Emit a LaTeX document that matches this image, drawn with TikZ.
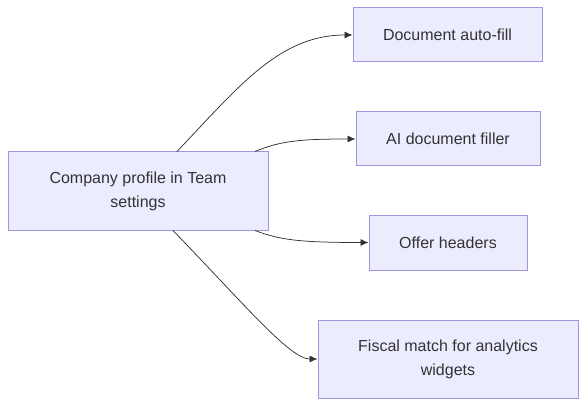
\documentclass[tikz,border=0pt]{standalone}
\usepackage{fontspec}
\setmainfont{Liberation Sans}
\usetikzlibrary{arrows.meta}
\definecolor{nodefill}{HTML}{ECECFF}
\definecolor{nodeborder}{HTML}{A593DD}
\definecolor{txt}{HTML}{333333}
\begin{document}
\begin{tikzpicture}[x=1pt,y=-1pt,
  box/.style={draw=nodeborder,fill=nodefill,line width=1pt,inner sep=0pt,align=center,
    text=txt,font=\fontsize{16}{24}\selectfont},
  edge/.style={draw=txt,line width=0.75pt,-{Latex[length=8pt,width=7pt]}}]
\useasboundingbox (0,0) rectangle (586,406);
\node[box,minimum width=260pt,minimum height=78pt] (cp) at (138,191) {Company profile in Team\\settings};
\node[box,minimum width=189pt,minimum height=54pt] (daf) at (447.5,35) {Document auto-fill};
\node[box,minimum width=184pt,minimum height=54pt] (aif) at (448,139) {AI document filler};
\node[box,minimum width=158pt,minimum height=55pt] (oh) at (448,242.5) {Offer headers};
\node[box,minimum width=260pt,minimum height=78pt] (fm) at (448,359) {Fiscal match for analytics\\widgets};
\draw[edge] ([xshift=39pt]cp.north) .. controls (240,85) and (280,35) .. (daf.west);
\draw[edge] ([xshift=117pt]cp.north) .. controls (280,141) and (300,139) .. (aif.west);
\draw[edge] ([xshift=117pt]cp.south) .. controls (280,240) and (300,242.5) .. (oh.west);
\draw[edge] ([xshift=35pt]cp.south) .. controls (245,305) and (290,359) .. (fm.west);
\end{tikzpicture}
\end{document}
